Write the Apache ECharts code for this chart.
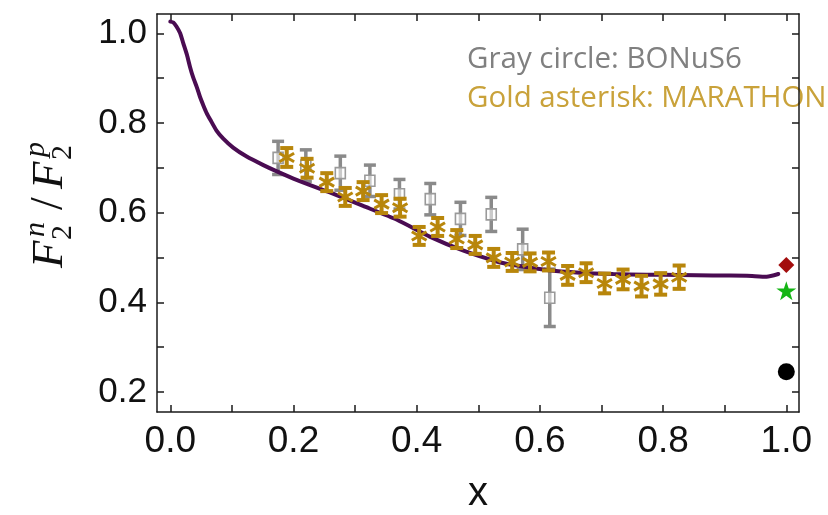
<!DOCTYPE html>
<html>
<head>
<meta charset="utf-8">
<script src="https://cdn.jsdelivr.net/npm/echarts@6/dist/echarts.min.js"></script>
<style>
  html, body { margin: 0; padding: 0; background: #fff; }
  #chart { width: 828px; height: 515px; }
</style>
</head>
<body>
<div id="chart"></div>
<script>
// Model curve for F2n/F2p versus x
const modelCurve = [
  [0.000, 1.026], [0.005, 1.024], [0.010, 1.015], [0.016, 1.000], [0.021, 0.978],
  [0.027, 0.952], [0.032, 0.925], [0.037, 0.902], [0.043, 0.880], [0.048, 0.859],
  [0.054, 0.838], [0.059, 0.822], [0.065, 0.807], [0.075, 0.783], [0.086, 0.765],
  [0.102, 0.745], [0.124, 0.725], [0.151, 0.706], [0.173, 0.692], [0.205, 0.673],
  [0.259, 0.645], [0.313, 0.615], [0.368, 0.584], [0.422, 0.546], [0.476, 0.515],
  [0.530, 0.491], [0.557, 0.483], [0.611, 0.472], [0.665, 0.466], [0.719, 0.463],
  [0.773, 0.4615], [0.827, 0.461], [0.881, 0.460], [0.936, 0.459], [0.968, 0.457],
  [0.987, 0.463]
];

// BONuS6: x, ratio, uncertainty
const bonusX   = [0.175, 0.220, 0.276, 0.324, 0.372, 0.422, 0.471, 0.521, 0.572, 0.616];
const bonusY   = [0.722, 0.705, 0.688, 0.671, 0.641, 0.630, 0.586, 0.596, 0.518, 0.410];
const bonusErr = [0.037, 0.035, 0.038, 0.035, 0.033, 0.035, 0.037, 0.038, 0.045, 0.064];

// MARATHON: x, ratio, uncertainty
const maraX   = [0.189, 0.222, 0.254, 0.284, 0.313, 0.343, 0.373, 0.404, 0.434, 0.465, 0.495,
                 0.525, 0.555, 0.584, 0.614, 0.645, 0.675, 0.705, 0.735, 0.765, 0.796, 0.826];
const maraY   = [0.723, 0.699, 0.668, 0.635, 0.648, 0.619, 0.611, 0.548, 0.568, 0.541, 0.528,
                 0.499, 0.490, 0.489, 0.491, 0.460, 0.466, 0.442, 0.451, 0.436, 0.441, 0.456];
const maraErr = [0.021, 0.021, 0.020, 0.020, 0.020, 0.020, 0.020, 0.020, 0.020, 0.020, 0.020,
                 0.020, 0.020, 0.020, 0.020, 0.021, 0.021, 0.022, 0.022, 0.023, 0.024, 0.026];

// Predictions at x = 1
const limitDiamond = [1.0, 0.483];
const limitStar    = [1.0, 0.426];
const limitCircle  = [1.0, 0.245];

// Axis ticks and labels
const xTicks  = [0, 0.1, 0.2, 0.3, 0.4, 0.5, 0.6, 0.7, 0.8, 0.9, 1.0];
const xLabels = [0, 0.2, 0.4, 0.6, 0.8, 1.0];
const yTicks  = [0.2, 0.3, 0.4, 0.5, 0.6, 0.7, 0.8, 0.9, 1.0];
const yLabels = [0.2, 0.4, 0.6, 0.8, 1.0];

const GRAY = '#8a8a8a';
const GOLD = '#b8860b';
const PURPLE = '#4a0c52';
const AXIS = '#1a1a1a';
const SANS = "'Liberation Sans', Arial, sans-serif";
const SERIF = "'Liberation Serif', 'DejaVu Serif', serif";

const bonusData = bonusX.map((x, i) => [x, bonusY[i], bonusErr[i]]);
const maraData = maraX.map((x, i) => [x, maraY[i], maraErr[i]]);

function errorBars(api, color, width, capHalf) {
  const x = api.value(0), y = api.value(1), e = api.value(2);
  const top = api.coord([x, y + e]);
  const bot = api.coord([x, y - e]);
  const st = { stroke: color, lineWidth: width, lineCap: 'butt' };
  return [
    { type: 'line', shape: { x1: top[0], y1: top[1], x2: bot[0], y2: bot[1] }, style: st },
    { type: 'line', shape: { x1: top[0] - capHalf, y1: top[1], x2: top[0] + capHalf, y2: top[1] }, style: st },
    { type: 'line', shape: { x1: bot[0] - capHalf, y1: bot[1], x2: bot[0] + capHalf, y2: bot[1] }, style: st }
  ];
}

const starPath = 'path://M50,0 L61.8,35.1 L98.9,35.1 L68.9,56.8 L80.3,91.9 L50,70.2 L19.7,91.9 L31.1,56.8 L1.1,35.1 L38.2,35.1 Z';

const axisCommon = {
  type: 'value',
  axisLine: { show: true, onZero: false, lineStyle: { color: AXIS, width: 1.5 } },
  axisTick: { show: true, inside: true, length: 7, lineStyle: { color: AXIS, width: 1.5 } },
  splitLine: { show: false },
  minorTick: { show: false }
};

function titlePart(text, x, y, size, italic) {
  return {
    type: 'text', x, y,
    style: {
      text, fontFamily: SERIF, fontStyle: italic ? 'italic' : 'normal', fontSize: size,
      fill: '#111', align: 'left', verticalAlign: 'middle'
    }
  };
}

const chart = echarts.init(document.getElementById('chart'), null, { renderer: 'canvas' });

chart.setOption({
  animation: false,
  backgroundColor: '#fff',
  grid: { left: 157, right: 29, top: 14, bottom: 103, containLabel: false, outerBoundsMode: 'none' },
  xAxis: [
    Object.assign({}, axisCommon, {
      position: 'bottom', min: -0.0216, max: 1.0206,
      name: 'x', nameLocation: 'middle', nameGap: 62,
      nameTextStyle: { fontFamily: SANS, fontSize: 40, color: '#111' },
      axisTick: Object.assign({}, axisCommon.axisTick, { customValues: xTicks }),
      axisLabel: {
        customValues: xLabels, margin: 11,
        fontFamily: SANS, fontSize: 37, color: '#111',
        formatter: v => v.toFixed(1)
      }
    }),
    Object.assign({}, axisCommon, {
      position: 'top', min: -0.0216, max: 1.0206,
      axisTick: Object.assign({}, axisCommon.axisTick, { customValues: xTicks }),
      axisLabel: { show: false }
    })
  ],
  yAxis: [
    Object.assign({}, axisCommon, {
      position: 'left', min: 0.1553, max: 1.043,
      axisTick: Object.assign({}, axisCommon.axisTick, { customValues: yTicks }),
      axisLabel: {
        customValues: yLabels, margin: 10,
        fontFamily: SANS, fontSize: 35, color: '#111',
        formatter: v => v.toFixed(1)
      }
    }),
    Object.assign({}, axisCommon, {
      position: 'right', min: 0.1553, max: 1.043,
      axisTick: Object.assign({}, axisCommon.axisTick, { customValues: yTicks }),
      axisLabel: { show: false }
    })
  ],
  graphic: [
    {
      type: 'group', x: 50, y: 268, rotation: Math.PI / 2,
      children: [
        titlePart('F', 0, 0, 45, true),
        titlePart('n', 31, -14, 30, true),
        titlePart('2', 28, 13, 30, false),
        titlePart('/', 58, 0, 46, false),
        titlePart('F', 79, 0, 45, true),
        titlePart('p', 111, -14, 30, true),
        titlePart('2', 108, 13, 30, false)
      ]
    },
    { type: 'text', left: 467, top: 45, style: { text: 'Gray circle: BONuS6', fontFamily: "'Open Sans', 'Noto Sans', sans-serif", fontSize: 29.5, fill: '#808080' } },
    { type: 'text', left: 467, top: 84, style: { text: 'Gold asterisk: MARATHON', fontFamily: "'Open Sans', 'Noto Sans', sans-serif", fontSize: 29.5, fill: '#c9a23a' } }
  ],
  series: [
    {
      name: 'BONuS6', type: 'custom', xAxisIndex: 0, yAxisIndex: 0, data: bonusData, z: 2,
      renderItem: (params, api) => {
        const c = api.coord([api.value(0), api.value(1)]);
        const children = errorBars(api, GRAY, 3.5, 6);
        children.push({ type: 'rect', shape: { x: c[0] - 5, y: c[1] - 5.5, width: 10, height: 11 },
          style: { fill: 'rgba(255,255,255,0.55)', stroke: '#9a9a9a', lineWidth: 1.6 } });
        return { type: 'group', children };
      }
    },
    {
      name: 'model', type: 'line', xAxisIndex: 0, yAxisIndex: 0, data: modelCurve, z: 3,
      showSymbol: false, smooth: 0.2,
      lineStyle: { color: PURPLE, width: 4, cap: 'round' }
    },
    {
      name: 'MARATHON', type: 'custom', xAxisIndex: 0, yAxisIndex: 0, data: maraData, z: 4,
      renderItem: (params, api) => {
        const c = api.coord([api.value(0), api.value(1)]);
        const children = errorBars(api, GOLD, 4, 6.5);
        const dx = 8.5 * Math.cos(Math.PI / 6), dy = 8.5 * Math.sin(Math.PI / 6);
        const st = { stroke: GOLD, lineWidth: 3 };
        children.push({ type: 'line', shape: { x1: c[0] - dx, y1: c[1] - dy, x2: c[0] + dx, y2: c[1] + dy }, style: st });
        children.push({ type: 'line', shape: { x1: c[0] - dx, y1: c[1] + dy, x2: c[0] + dx, y2: c[1] - dy }, style: st });
        return { type: 'group', children };
      }
    },
    {
      name: 'diamond', type: 'scatter', data: [limitDiamond], symbol: 'diamond', symbolSize: [16, 16],
      itemStyle: { color: '#a30d0d', opacity: 1 }, z: 5
    },
    {
      name: 'star', type: 'scatter', data: [limitStar], symbol: starPath, symbolSize: [20, 19],
      itemStyle: { color: '#15b515', opacity: 1 }, z: 5
    },
    {
      name: 'circle', type: 'scatter', data: [limitCircle], symbol: 'circle', symbolSize: 17,
      itemStyle: { color: '#000', opacity: 1 }, z: 5
    }
  ]
});
</script>
</body>
</html>
